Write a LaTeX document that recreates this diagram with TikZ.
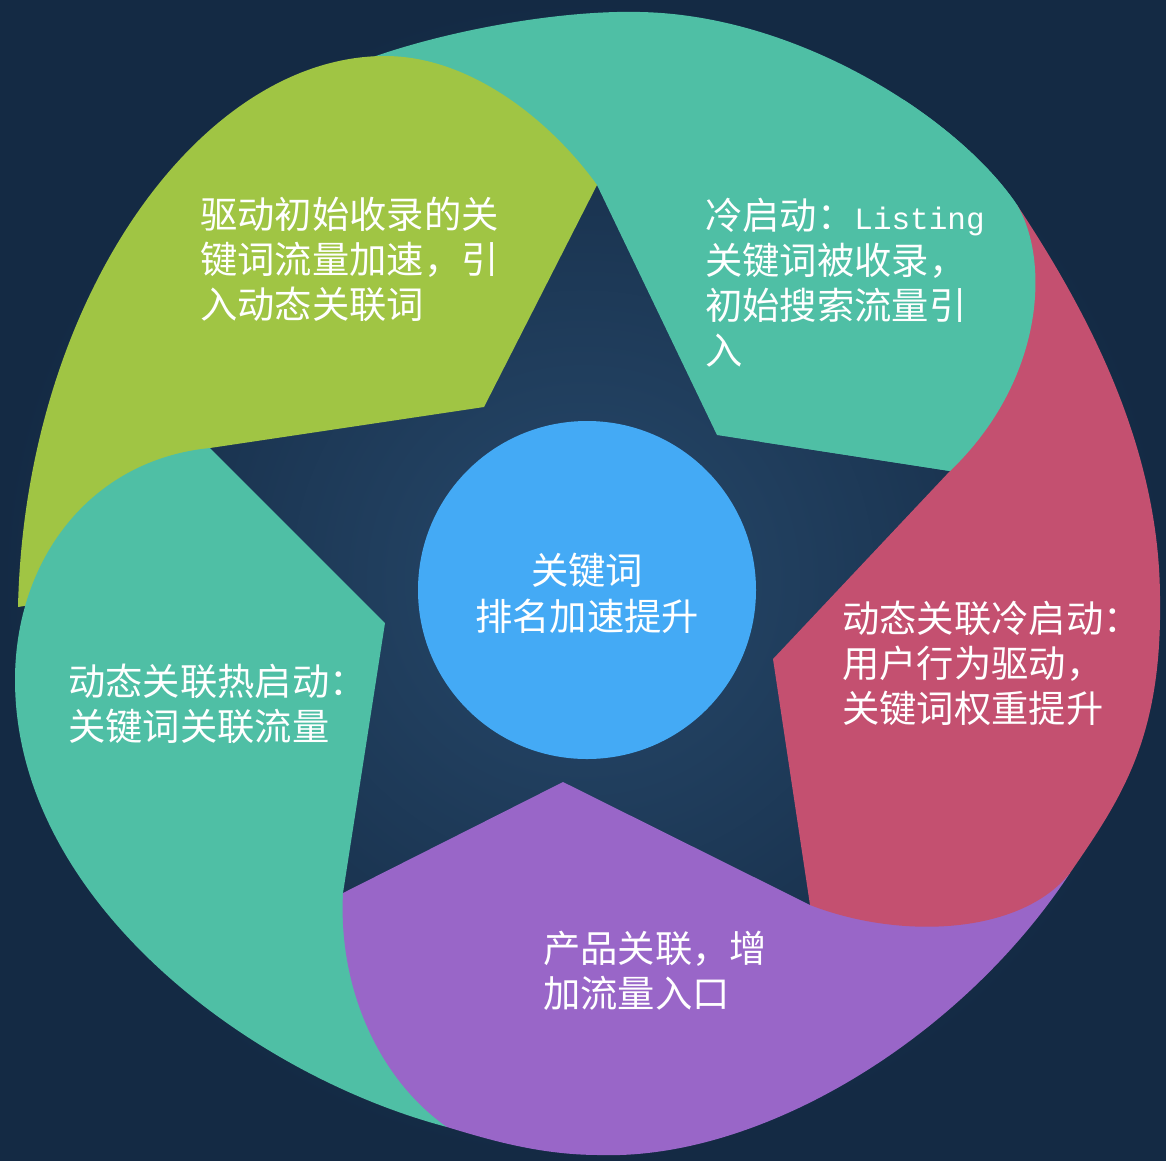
\documentclass[tikz,border=0pt]{standalone}
\usepackage{fontspec}
\setmainfont{Noto Sans CJK SC}
\newfontfamily\listfont{Liberation Mono}
\definecolor{tealc}{HTML}{4FBFA5}
\definecolor{limec}{HTML}{A0C544}
\definecolor{rosec}{HTML}{C45070}
\definecolor{purpc}{HTML}{9966C8}
\definecolor{bluec}{HTML}{44AAF5}
\definecolor{bgin}{HTML}{27496B}
\definecolor{bgout}{HTML}{142A44}
\begin{document}
\begin{tikzpicture}[x=1pt,y=-1pt,
  lbl/.style={text=white, font=\fontsize{37.3}{45}\selectfont, align=left, inner sep=0pt, anchor=base west},
  clbl/.style={text=white, font=\fontsize{37.3}{46}\selectfont, align=center, inner sep=0pt, anchor=base}]
\useasboundingbox (0,0) rectangle (1166,1160);
\shade[inner color=bgin, outer color=bgout] (0,0) rectangle (1166,1160);

\def\tealtop{(373,57) .. controls (450,30) and (560,10) .. (640,12)
  .. controls (800,15) and (960,120) .. (1017,205)
  .. controls (1050,260) and (1045,380) .. (950,471)
  -- (717,435) -- (597,185) -- (520,190) -- (420,110) -- cycle}

% teal top blade (under green)
\fill[tealc] \tealtop;

% green blade
\fill[limec] (210,448) -- (484,407) -- (597,185)
  .. controls (550,120) and (470,56) .. (385,56)
  .. controls (200,56) and (25,300) .. (18,607)
  -- (60,600) -- (150,500) -- cycle;

% teal left blade
\fill[tealc] (210,448) -- (385,623) -- (343,893) -- (400,950) -- (440,1115) -- (447,1127)
  .. controls (250,1075) and (15,900) .. (15,680)
  .. controls (15,560) and (90,460) .. (210,448) -- cycle;

% purple blade
\fill[purpc] (343,893) -- (563,782) -- (810,905) -- (900,890) -- (1000,870) -- (1070,873)
  .. controls (960,1040) and (760,1160) .. (600,1155)
  .. controls (540,1155) and (490,1140) .. (447,1127)
  .. controls (380,1080) and (338,990) .. (343,893) -- cycle;

% red blade
\fill[rosec] (1017,205) .. controls (1100,330) and (1160,460) .. (1160,600)
  .. controls (1162,740) and (1120,800) .. (1070,873)
  .. controls (1020,935) and (900,940) .. (810,905)
  -- (773,659) -- (950,471) -- (985,380) -- cycle;

% teal top leading part over red
\begin{scope}
\clip (760,100) rectangle (1166,520);
\fill[tealc] \tealtop;
\end{scope}

% hub
\node[circle, fill=bluec, minimum size=338pt, inner sep=0pt] (hub) at (587,590) {};
\node[clbl] (hubtxt) at (587,630) {关键词\\排名加速提升};

% labels
\node[lbl] (t1) at (705,364) {冷启动：{\listfont\fontsize{31}{45}\selectfont Listing}\\关键词被收录，\\初始搜索流量引\\入};
\node[lbl] (t2) at (842,722) {动态关联冷启动：\\用户行为驱动，\\关键词权重提升};
\node[lbl] (t3) at (543,1007) {产品关联，增\\加流量入口};
\node[lbl] (t4) at (68,740) {动态关联热启动：\\关键词关联流量};
\node[lbl] (t5) at (200,318) {驱动初始收录的关\\键词流量加速，引\\入动态关联词};
\end{tikzpicture}
\end{document}
